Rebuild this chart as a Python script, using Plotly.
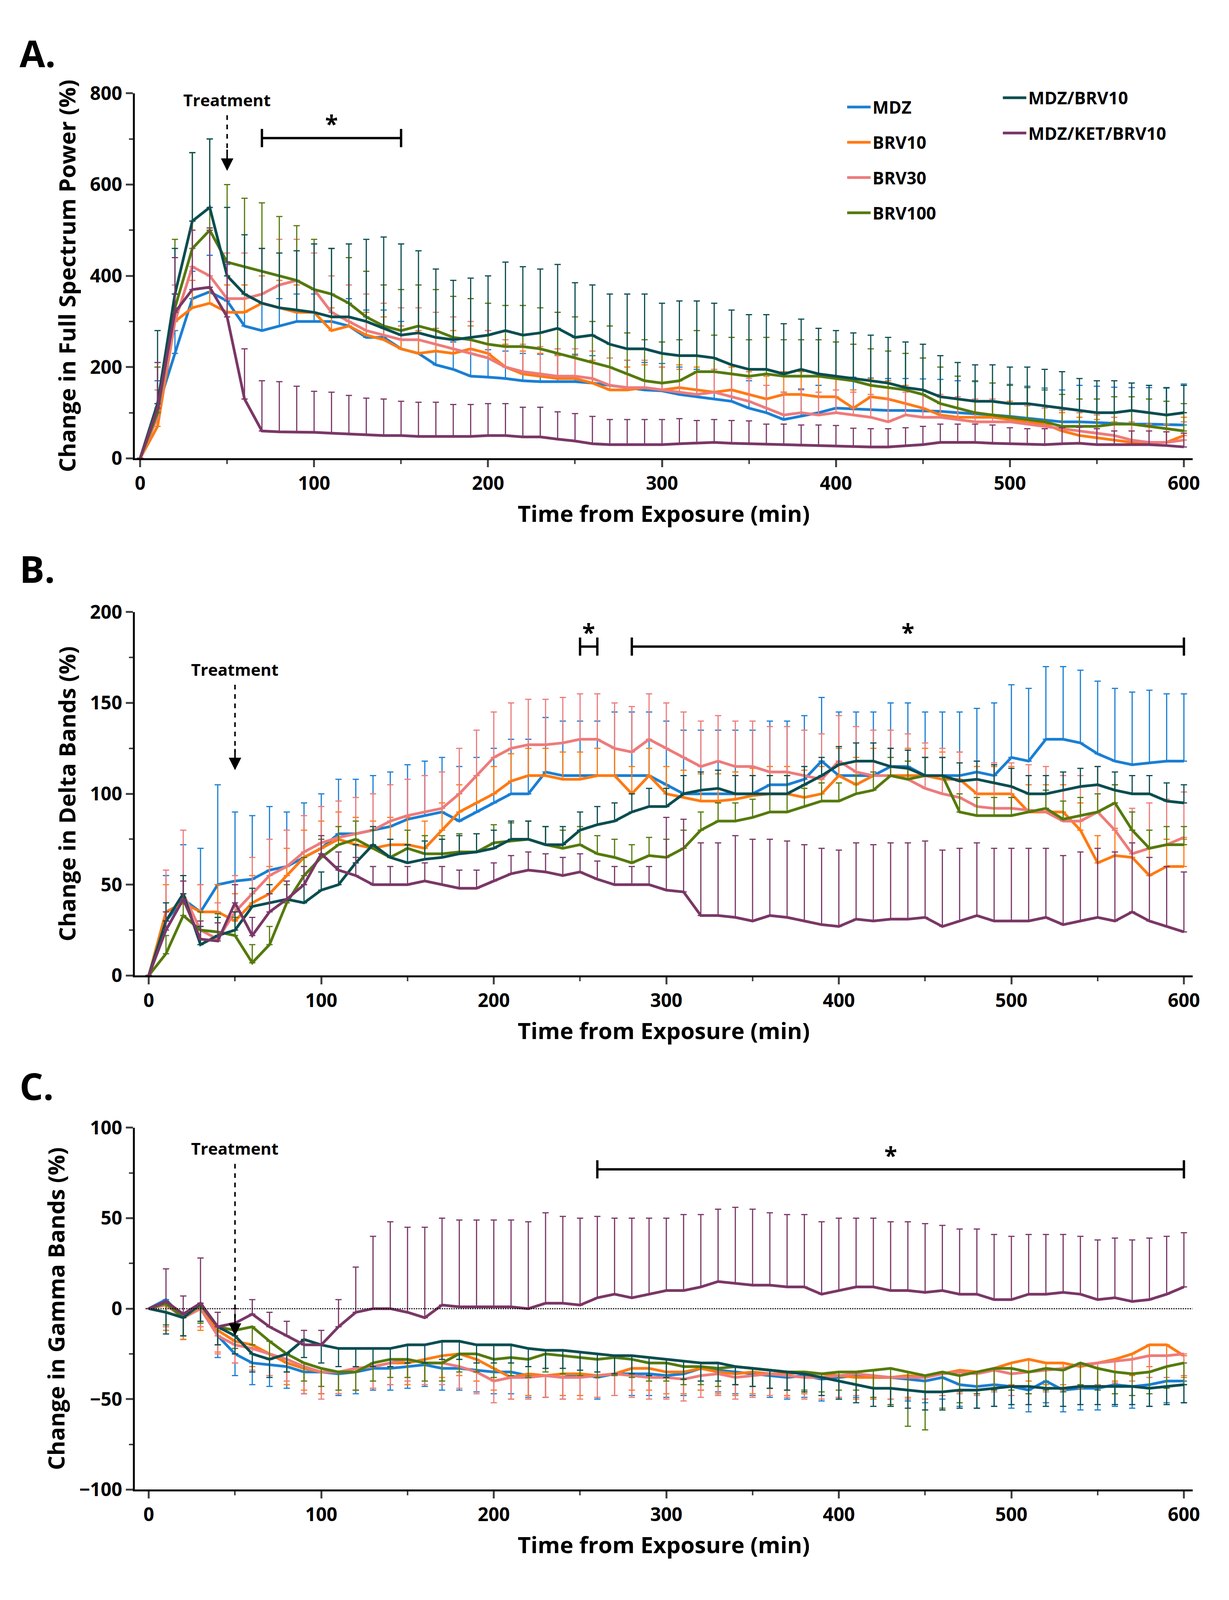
import plotly.graph_objects as go
from plotly.subplots import make_subplots

names = ['MDZ', 'BRV10', 'BRV30', 'BRV100', 'MDZ/BRV10', 'MDZ/KET/BRV10']
colors = ['#1a7fd4', '#ff7a12', '#ee7b7b', '#557a0c', '#0b4d50', '#7a3766']

# ---- Panel A: full spectrum power (%)
a_mean = {
    'MDZ': [0,110,230,350,365,345,290,280,290,300, 300,300,290,265,265,240,230,205,195,180,
            178,175,170,168,168,168,165,160,155,150, 148,140,135,130,125,110,100,85,92,100,
            110,108,106,105,105,104,103,100,98,95, 92,88,84,80,80,78,76,75,75,74, 73],
    'BRV10': [0,70,300,330,340,320,320,340,330,320, 320,280,290,270,260,240,230,235,230,240,
              230,200,185,180,175,175,165,150,150,155, 150,155,150,145,150,140,130,140,140,135,
              135,110,135,130,120,110,95,90,90,90, 85,80,75,60,50,45,40,35,35,35, 50],
    'BRV30': [0,90,300,420,400,350,350,360,380,390, 370,320,300,280,270,260,260,250,240,230,
              220,200,190,185,180,180,175,160,155,155, 150,145,140,145,135,125,110,95,100,95,
              100,95,90,80,95,90,90,85,80,80, 80,75,70,65,60,55,50,40,35,35, 40],
    'BRV100': [0,100,330,460,500,430,420,410,400,390, 370,360,340,310,290,280,290,280,265,260,
               250,245,245,240,230,220,210,200,185,170, 165,170,190,190,185,180,185,180,180,180,
               175,170,160,155,150,140,120,110,100,95, 90,85,80,70,70,70,75,75,70,65, 60],
    'MDZ/BRV10': [0,120,360,520,550,400,360,340,330,325, 320,310,310,300,285,270,275,265,260,265,
                  270,280,270,275,285,265,270,250,240,240, 230,225,225,220,205,195,195,185,195,185,
                  180,175,170,165,155,150,135,130,125,125, 120,120,115,110,105,100,100,105,100,95, 100],
    'MDZ/KET/BRV10': [0,110,320,370,375,310,130,60,58,58, 57,55,53,52,50,50,48,48,48,48,
                      50,50,47,47,42,38,32,30,30,30, 30,32,33,35,33,32,30,30,28,28,
                      27,26,25,25,27,30,35,35,35,33, 32,30,30,32,33,30,30,30,30,28, 25],
}
a_err = {
    'MDZ': [0,60,50,60,80,80,60,60,60,60, 60,60,60,60,60,60,60,60,60,60, 60,60,60,60,60,60,60,60,60,60,
            60,60,60,60,60,60,60,60,60,60, 70,70,70,70,70,70,70,70,70,70, 70,70,70,70,80,80,80,80,80,80, 90],
    'BRV10': [0,40,60,60,60,60,60,60,60,60, 50,50,50,50,50,50,50,50,50,50, 50,50,50,50,50,50,50,50,50,50,
              50,50,50,50,50,50,50,50,50,50, 40,40,40,40,40,40,40,40,40,40, 40,40,40,40,40,40,40,40,40,40, 40],
    'BRV30': [0,60,80,100,100,100,100,100,100,90, 80,80,80,80,70,70,70,70,70,70, 60,60,60,60,60,60,60,60,60,60,
              50,50,50,50,50,50,50,50,50,50, 50,50,50,50,50,50,50,50,50,50, 40,40,40,40,40,40,40,40,40,40, 40],
    'BRV100': [0,100,150,210,200,170,150,150,130,120, 110,100,100,100,90,90,90,90,90,90, 90,90,90,90,90,90,90,90,90,90,
               90,90,90,80,80,80,80,80,80,80, 80,80,80,80,80,80,80,70,70,70, 70,70,70,70,60,60,60,60,60,60, 60],
    'MDZ/BRV10': [0,160,100,150,150,150,130,120,120,130, 150,150,160,180,200,200,180,150,130,130,
                  130,150,150,140,140,120,110,110,120,120, 110,120,120,120,120,120,120,110,110,100,
                  100,100,100,100,100,100,90,80,80,80, 80,80,80,80,70,70,70,60,60,60, 60],
    'MDZ/KET/BRV10': [0,100,120,130,130,120,110,110,110,100, 90,90,85,80,80,75,75,75,70,70,
                      70,70,65,65,60,60,60,55,55,55, 55,55,50,50,50,50,45,45,45,45,
                      45,40,40,40,40,40,40,40,40,40, 35,35,35,35,35,35,30,30,30,30, 30],
}

# ---- Panel B: delta bands (%)
b_mean = {
    'MDZ': [0,30,42,35,50,52,53,58,60,65, 70,78,78,80,82,86,88,90,85,90, 95,100,100,112,110,110,110,110,110,110,
            105,100,100,100,100,100,105,105,108,118, 110,110,110,115,115,110,110,110,112,110,
            120,118,130,130,128,122,118,116,117,118, 118],
    'BRV10': [0,35,40,35,35,30,40,45,55,65, 70,75,72,70,72,72,70,80,90,95, 100,107,110,110,108,108,110,110,100,110,
              100,98,96,96,97,99,100,100,98,100, 110,105,110,110,110,110,108,108,100,100,
              100,90,90,90,80,62,66,65,55,60, 60],
    'BRV30': [0,30,45,25,20,35,45,55,60,68, 73,76,78,80,85,88,90,92,100,110, 120,125,127,127,128,130,130,125,123,130,
              125,120,115,118,115,115,112,112,110,108, 118,112,110,110,108,103,100,98,93,92,
              92,91,90,85,85,90,80,67,70,72, 76],
    'BRV100': [0,12,33,25,24,22,7,17,40,55, 65,72,75,70,65,70,67,67,68,68, 73,74,75,72,70,72,67,65,62,66,
               65,70,80,85,85,87,90,90,93,96, 96,100,102,110,108,110,110,90,88,88,
               88,90,92,86,88,90,95,80,70,72, 72],
    'MDZ/BRV10': [0,30,45,17,22,25,38,40,42,40, 47,50,62,72,65,62,64,65,67,68, 70,75,75,72,72,80,83,85,90,93,
                  93,100,102,103,100,100,100,100,105,110, 116,118,118,115,114,110,110,107,108,106,
                  104,100,100,102,104,105,102,100,100,96, 95],
    'MDZ/KET/BRV10': [0,25,42,20,19,40,22,35,42,50, 67,58,55,50,50,50,52,50,48,48, 52,56,58,57,55,57,53,50,50,50,
                      47,46,33,33,32,30,33,32,30,28, 27,31,30,31,31,32,27,30,33,30,
                      30,30,32,28,30,32,30,35,30,27, 24],
}
b_err = {
    'MDZ': [0,25,30,35,55,38,35,35,30,30, 30,30,30,30,30,30,30,30,30,30, 30,30,30,30,30,30,30,35,35,35,
            35,35,35,35,35,35,35,35,35,35, 35,35,35,35,35,35,35,35,35,40, 40,40,40,40,40,40,40,40,40,37, 37],
    'BRV10': [0,15,15,15,15,15,15,15,15,15, 15,15,15,15,15,15,15,15,15,15, 15,15,15,15,15,15,15,15,15,15,
              15,15,15,15,15,15,15,15,15,15, 15,15,15,15,15,15,15,15,15,15, 15,15,15,15,15,15,15,15,15,15, 15],
    'BRV30': [0,28,35,25,20,20,20,20,20,20, 20,20,20,20,20,20,20,20,25,25, 25,25,25,25,25,25,25,25,25,25,
              25,25,25,25,25,25,25,25,25,25, 25,25,25,25,25,25,25,25,25,25, 25,25,25,25,25,25,25,25,25,25, 25],
    'BRV100': [0,10,10,10,10,10,10,10,10,10, 10,10,10,10,10,10,10,10,10,10, 10,10,10,10,10,10,10,10,10,10,
               10,10,10,10,10,10,10,10,10,10, 10,10,10,10,10,10,10,10,10,10, 10,10,10,10,10,10,10,10,10,10, 10],
    'MDZ/BRV10': [0,10,10,10,10,10,10,10,10,10, 10,10,10,10,10,10,10,10,10,10, 10,10,10,10,10,10,10,10,10,10,
                  10,10,10,10,10,10,10,10,10,10, 10,10,10,10,10,10,10,10,10,10, 10,10,10,10,10,10,10,10,10,10, 10],
    'MDZ/KET/BRV10': [0,10,10,10,10,10,10,10,10,10, 10,10,10,10,10,10,10,10,10,10, 10,10,10,10,10,10,10,10,10,10,
                      40,40,40,40,45,45,42,42,42,42, 42,42,42,42,42,42,42,40,40,40,
                      40,40,38,38,38,38,38,38,35,33, 33],
}

# ---- Panel C: gamma bands (%)
c_mean = {
    'MDZ': [0,5,-5,2,-15,-25,-30,-31,-32,-35, -35,-36,-35,-33,-33,-32,-31,-33,-33,-34,
            -35,-35,-37,-37,-38,-36,-38,-36,-36,-36, -37,-36,-33,-34,-35,-36,-37,-38,-37,-39,
            -38,-37,-38,-38,-39,-40,-38,-42,-43,-42, -43,-45,-40,-45,-44,-44,-42,-43,-42,-40, -40],
    'BRV10': [0,3,-5,0,-12,-18,-20,-25,-30,-33, -35,-35,-33,-32,-30,-30,-28,-26,-25,-28,
              -33,-38,-36,-37,-36,-36,-37,-36,-33,-33, -35,-35,-33,-35,-36,-35,-36,-36,-35,-36,
              -37,-38,-38,-38,-37,-38,-36,-34,-35,-33, -30,-28,-30,-30,-32,-30,-28,-25,-20,-20, -26],
    'BRV30': [0,2,-5,0,-15,-20,-22,-25,-28,-32, -35,-35,-33,-32,-30,-28,-30,-30,-32,-35,
              -40,-38,-38,-37,-38,-38,-37,-36,-37,-38, -38,-39,-37,-36,-38,-37,-36,-37,-38,-38,
              -37,-36,-37,-38,-38,-38,-36,-35,-36,-34, -36,-35,-34,-33,-31,-30,-29,-28,-26,-26, -25],
    'BRV100': [0,3,-5,2,-10,-12,-10,-18,-25,-30, -33,-35,-35,-30,-28,-28,-30,-30,-25,-25,
               -28,-27,-28,-25,-26,-27,-28,-27,-28,-30, -30,-32,-32,-33,-32,-33,-34,-35,-35,-36,
               -35,-35,-34,-33,-35,-37,-35,-37,-35,-33, -33,-35,-33,-34,-30,-33,-35,-36,-35,-32, -30],
    'MDZ/BRV10': [0,-2,-5,3,-10,-15,-25,-28,-25,-17, -20,-22,-22,-22,-22,-20,-20,-18,-18,-20,
                  -20,-20,-22,-23,-23,-24,-25,-26,-26,-27, -28,-29,-30,-30,-32,-33,-34,-35,-36,-38,
                  -40,-42,-44,-44,-45,-46,-46,-45,-45,-44, -43,-43,-44,-44,-43,-43,-43,-43,-44,-43, -42],
    'MDZ/KET/BRV10': [0,4,-3,3,-10,-8,-3,-10,-15,-20, -20,-10,-2,0,0,-2,-5,2,1,1,
                      1,1,0,3,3,2,6,8,6,8, 10,10,12,15,14,13,13,12,12,8,
                      10,12,12,10,10,9,10,8,8,5, 5,8,8,9,8,5,6,4,5,8, 12],
}
c_err = {  # downward for all but MDZ/KET/BRV10 (upward)
    'MDZ': [0,15,12,12,12,12,12,12,12,12, 12,12,12,12,12,12,12,12,12,12, 12,12,12,12,12,12,12,12,12,12,
            12,12,12,12,12,12,12,12,12,12, 12,12,12,12,12,12,12,12,12,12, 12,12,12,12,12,12,12,12,12,12, 12],
    'BRV10': [0,15,12,12,12,12,12,12,12,12, 12,12,12,12,12,12,12,12,12,12, 12,12,12,12,12,12,12,12,12,12,
              12,12,12,12,12,12,12,12,12,12, 12,12,12,12,12,12,12,12,12,12, 12,12,12,12,12,12,12,12,12,12, 12],
    'BRV30': [0,12,10,10,10,10,12,12,12,15, 15,12,12,12,12,12,12,12,12,12, 12,12,12,12,12,12,12,12,12,12,
              12,12,12,12,12,12,12,12,12,12, 12,12,12,12,12,12,12,12,12,12, 12,12,12,12,12,12,12,12,12,12, 12],
    'BRV100': [0,12,10,10,10,10,10,10,10,10, 10,10,10,10,10,10,10,10,10,10, 10,10,10,10,10,10,10,10,10,10,
               10,10,10,10,10,10,10,10,10,10, 10,10,15,20,30,30,20,15,12,12, 12,12,12,12,12,12,12,12,12,12, 12],
    'MDZ/BRV10': [0,12,10,10,10,10,10,10,10,10, 10,10,10,10,10,10,10,10,10,10, 10,10,10,10,10,10,10,10,10,10,
                  10,10,10,10,10,10,10,10,10,10, 10,10,10,10,10,10,10,10,10,10, 10,10,10,10,10,10,10,10,10,10, 10],
    'MDZ/KET/BRV10': [0,18,10,25,8,8,8,8,8,8, 8,15,25,40,48,47,50,48,48,48, 48,48,48,50,48,48,45,42,44,42,
                      40,42,40,40,42,42,40,40,40,40, 40,38,38,38,38,38,36,36,36,36,
                      35,33,33,32,32,33,33,34,34,32, 30],
}

fig = make_subplots(rows=3, cols=1, vertical_spacing=0.1)
doms = [(0.722, 0.957), (0.389, 0.623), (0.058, 0.291)]

for row, (means, errs) in enumerate([(a_mean, a_err), (b_mean, b_err), (c_mean, c_err)], start=1):
    for i, n in enumerate(names):
        y = means[n]
        x = list(range(0, 10 * len(y), 10))
        e = errs[n]
        zeros = [0] * len(e)
        if row == 3 and n != 'MDZ/KET/BRV10':
            ey = dict(type='data', symmetric=False, array=zeros, arrayminus=e)
        else:
            ey = dict(type='data', symmetric=False, array=e, arrayminus=zeros)
        ey.update(color=colors[i], thickness=3, width=8)
        fig.add_trace(go.Scatter(
            x=x, y=y, mode='lines', name=n, line=dict(color=colors[i], width=7),
            error_y=ey, showlegend=(row == 1), legendgroup=n,
            legend='legend' if i < 4 else 'legend2'), row=row, col=1)

axis_font = dict(family='Open Sans', size=48, color='black', weight='bold')
title_font = dict(family='Open Sans', size=58, color='black')
ytitles = ['Change in Full Spectrum Power (%)', 'Change in Delta Bands (%)', 'Change in Gamma Bands (%)']
yranges = [[0, 800], [0, 200], [-100, 100]]
ydt = [200, 50, 50]
for r in range(1, 4):
    fig.update_xaxes(row=r, col=1, range=[-3 if r == 1 else -8, 605], dtick=100,
                     domain=[0.097, 0.98], ticks='outside', ticklen=18, tickwidth=5,
                     showline=True, linewidth=5, linecolor='black', showgrid=False, zeroline=False,
                     tickfont=axis_font, minor=dict(dtick=50, ticks='outside', ticklen=10, tickwidth=4),
                     title=dict(text='<b>Time from Exposure (min)</b>', font=title_font, standoff=30))
    fig.update_yaxes(row=r, col=1, range=yranges[r - 1], dtick=ydt[r - 1],
                     domain=doms[r - 1], ticks='outside', ticklen=18, tickwidth=5,
                     showline=True, linewidth=5, linecolor='black', showgrid=False, zeroline=False,
                     tickfont=axis_font, tickformat='d',
                     minor=dict(dtick=ydt[r - 1] / 2, ticks='outside', ticklen=10, tickwidth=4),
                     title=dict(text='<b>' + ytitles[r - 1] + '</b>', font=title_font, standoff=20))

# zero reference line in C
fig.add_shape(type='line', xref='x3', yref='y3', x0=0, x1=605, y0=0, y1=0,
              line=dict(color='black', width=3, dash='dot'))

# treatment arrows
for r, (ytxt, ytip) in enumerate([(760, 630), (162, 113), (82, -15)], start=1):
    xr, yr = ('x', 'y') if r == 1 else ('x%d' % r, 'y%d' % r)
    span = yranges[r - 1][1] - yranges[r - 1][0]
    fig.add_annotation(x=50, y=ytxt, xref=xr, yref=yr, text='<b>Treatment</b>', showarrow=False,
                       font=dict(family='Open Sans', size=42, color='black'), yanchor='bottom')
    fig.add_shape(type='line', xref=xr, yref=yr, x0=50, x1=50, y0=ytxt - span * 0.01, y1=ytip + span * 0.05,
                  line=dict(color='black', width=4, dash='dash'))
    fig.add_annotation(x=50, y=ytip, xref=xr, yref=yr, ax=50, ay=ytip + span * 0.06,
                       axref=xr, ayref=yr, text='', showarrow=True, arrowhead=2, arrowsize=1.6,
                       arrowwidth=4, arrowcolor='black')

# significance brackets
brackets = [(1, 70, 150, 702, 40), (2, 250, 260, 181, 10), (2, 280, 600, 181, 10), (3, 260, 600, 77, 10)]
for r, x0, x1, yb, cap in brackets:
    xr, yr = ('x', 'y') if r == 1 else ('x%d' % r, 'y%d' % r)
    fig.add_shape(type='line', xref=xr, yref=yr, x0=x0, x1=x1, y0=yb, y1=yb, line=dict(color='black', width=6))
    for xx in (x0, x1):
        fig.add_shape(type='line', xref=xr, yref=yr, x0=xx, x1=xx, y0=yb - cap / 2, y1=yb + cap / 2,
                      line=dict(color='black', width=6))
    fig.add_annotation(x=(x0 + x1) / 2, y=yb, xref=xr, yref=yr, text='<b>*</b>', showarrow=False,
                       yanchor='bottom', yshift=-6, font=dict(family='Open Sans', size=60, color='black'))

for lbl, yy in [('A.', 1.0), ('B.', 0.668), ('C.', 0.335)]:
    fig.add_annotation(x=0.0, y=yy, xref='paper', yref='paper', text='<b>' + lbl + '</b>', showarrow=False,
                       xanchor='left', yanchor='top', font=dict(family='Open Sans', size=95, color='black'))

leg_font = dict(family='Open Sans', size=44, color='black', weight='bold')
fig.update_layout(
    autosize=True, plot_bgcolor='white', paper_bgcolor='white',
    margin=dict(l=40, r=40, t=60, b=60),
    legend=dict(x=0.69, y=0.957, xanchor='left', yanchor='top', font=leg_font,
                tracegroupgap=30, itemwidth=60, bgcolor='rgba(0,0,0,0)'),
    legend2=dict(x=0.82, y=0.963, xanchor='left', yanchor='top', font=leg_font,
                 tracegroupgap=30, itemwidth=60, bgcolor='rgba(0,0,0,0)'),
)

fig.write_html('out.html', default_width='100vw', default_height='100vh')
